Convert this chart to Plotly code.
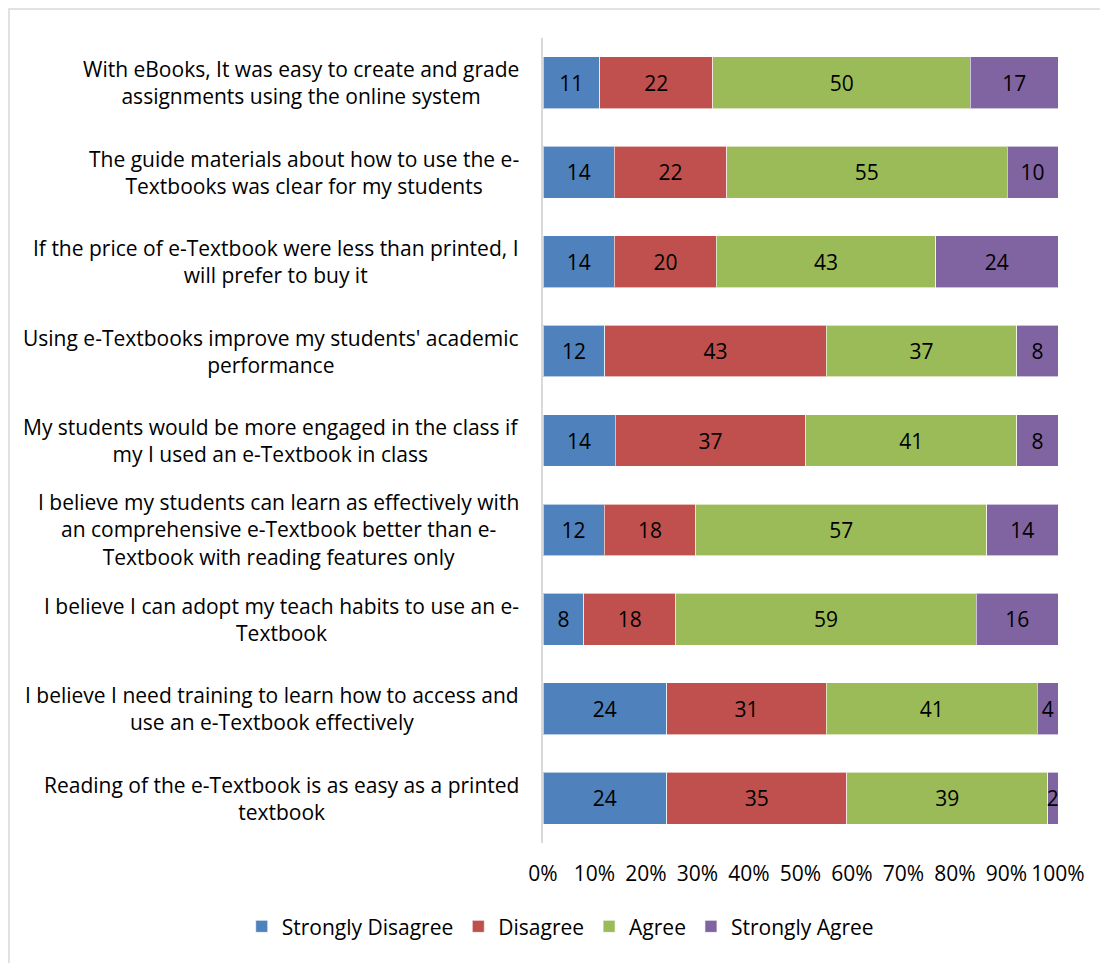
import plotly.graph_objects as go

statements = [
    "With eBooks, It was easy to create and grade<br>assignments using the online system",
    "The guide materials about how to use the e-<br>Textbooks was clear for my students",
    "If the price of e-Textbook were less than printed, I<br>will prefer to buy it",
    "Using e-Textbooks improve my students' academic<br>performance",
    "My students would be more engaged in the class if<br>my I used an e-Textbook in class",
    "I believe my students can learn as effectively with<br>an comprehensive e-Textbook better than e-<br>Textbook with reading features only",
    "I believe I can adopt my teach habits to use an e-<br>Textbook",
    "I believe I need training to learn how to access and<br>use an e-Textbook effectively",
    "Reading of the e-Textbook is as easy as a printed<br>textbook",
]
cats = [f"s{i}" for i in range(len(statements))]

strongly_disagree = [11, 14, 14, 12, 14, 12, 8, 24, 24]
disagree = [22, 22, 20, 43, 37, 18, 18, 31, 35]
agree = [50, 55, 43, 37, 41, 57, 59, 41, 39]
strongly_agree = [17, 10, 24, 8, 8, 14, 16, 4, 2]

series = [
    ("Strongly Disagree", strongly_disagree, "#4F81BD"),
    ("Disagree", disagree, "#C0504D"),
    ("Agree", agree, "#9BBB59"),
    ("Strongly Agree", strongly_agree, "#8064A2"),
]

FONT = "Open Sans"
FS = 21

fig = go.Figure()
for name, vals, col in series:
    fig.add_trace(go.Bar(
        y=cats, x=vals, name=name, orientation="h",
        marker=dict(color=col, line=dict(color="rgba(255,255,255,0.6)", width=1)),
        text=vals, texttemplate="%{text}", textposition="inside",
        insidetextanchor="middle",
        textfont=dict(family=FONT, size=FS, color="black"),
    ))

for c, s in zip(cats, statements):
    fig.add_annotation(
        x=0, xref="paper", y=c, yref="y", text=s, showarrow=False,
        xanchor="right", xshift=-22, align="center",
        font=dict(family=FONT, size=FS, color="black"),
    )

# light frame around the chart area
fig.add_shape(type="rect", xref="paper", yref="paper",
              x0=-1.037, y0=-0.3, x1=1.3, y1=1.036,
              line=dict(color="#D9D9D9", width=1.5))

fig.update_layout(
    width=1100, height=955,
    barmode="stack", barnorm="percent", bargap=0.42,
    plot_bgcolor="white", paper_bgcolor="white",
    margin=dict(l=535, r=50, t=30, b=120, autoexpand=False),
    font=dict(family=FONT, size=FS, color="black"),
    uniformtext=dict(minsize=FS, mode="show"),
    legend=dict(orientation="h", x=-0.585, xanchor="left",
                y=-0.104, yanchor="middle",
                font=dict(size=FS), traceorder="normal"),
)
fig.update_xaxes(range=[0, 100], dtick=10, ticksuffix="%", showgrid=False,
                 zeroline=False, showline=False, ticklabelstandoff=16,
                 tickfont=dict(size=FS))
fig.update_yaxes(autorange="reversed", showticklabels=False, showgrid=False,
                 showline=True, linecolor="#D9D9D9", linewidth=2)

fig.write_html("out.html")
